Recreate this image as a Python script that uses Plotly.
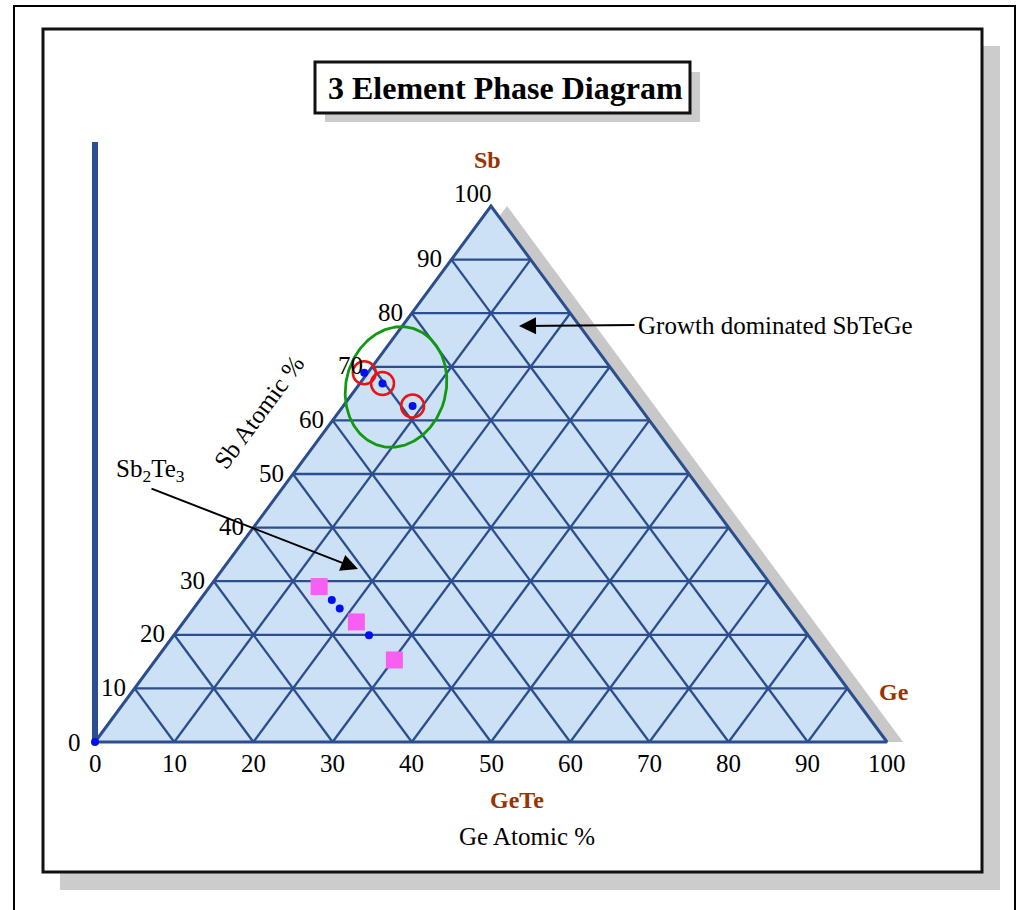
import numpy as np
import plotly.graph_objects as go

# ---------------- data ----------------
ge_ticks = [0, 10, 20, 30, 40, 50, 60, 70, 80, 90, 100]
sb_ticks = [0, 10, 20, 30, 40, 50, 60, 70, 80, 90, 100]

# Sb2Te3 - GeTe tie line samples (Ge scale, Sb scale)
tie_square_ge = [28.3, 33.0, 37.8]
tie_square_sb = [29.0, 22.4, 15.3]
tie_dot_ge = [29.9, 30.9, 34.6]
tie_dot_sb = [26.5, 24.9, 19.9]

# growth dominated SbTeGe compositions
growth_ge = [34.0, 36.3, 40.1]
growth_sb = [68.9, 66.9, 62.7]

origin_ge = [0]
origin_sb = [0]

# ---------------- geometry helpers ----------------
W, H = 1018, 910
X0, Y0 = 95.0, 742.0        # pixel of (0,0)
SX, SY = 7.92, 5.36          # pixels per unit


def px2x(p):
    return (p - X0) / SX


def py2y(p):
    return (Y0 - p) / SY


def pxp(p):
    return p / W


def pyp(p):
    return 1 - p / H


LINE = "#2c4d8e"
FILL = "#cde1f6"
BROWN = "#993300"
FONT = "Liberation Serif"

fig = go.Figure()

# shadow of triangle
shift = 16 / SX
fig.add_trace(go.Scatter(
    x=[0 + shift, 100 + shift, 50 + shift, 0 + shift],
    y=[0, 0, 100, 0], mode="lines", fill="toself",
    fillcolor="#c8c8c8", line=dict(width=0, color="#c8c8c8"),
    hoverinfo="skip", showlegend=False))

# triangle fill
fig.add_trace(go.Scatter(
    x=[0, 100, 50, 0], y=[0, 0, 100, 0], mode="lines", fill="toself",
    fillcolor=FILL, line=dict(width=0, color=FILL),
    hoverinfo="skip", showlegend=False))

# grid lines
gx, gy = [], []
for t in sb_ticks[1:-1]:
    gx += [t / 2, 100 - t / 2, None]
    gy += [t, t, None]
for t in ge_ticks[1:-1]:
    gx += [t, 50 + t / 2, None]
    gy += [0, 100 - t, None]
    gx += [t, t / 2, None]
    gy += [0, t, None]
fig.add_trace(go.Scatter(x=gx, y=gy, mode="lines",
                         line=dict(color=LINE, width=2.3),
                         hoverinfo="skip", showlegend=False))
# outline
fig.add_trace(go.Scatter(x=[0, 100, 50, 0], y=[0, 0, 100, 0], mode="lines",
                         line=dict(color=LINE, width=3),
                         hoverinfo="skip", showlegend=False))

# vertical axis bar
fig.add_trace(go.Scatter(x=[0, 0], y=[0, py2y(142)], mode="lines",
                         line=dict(color=LINE, width=6),
                         hoverinfo="skip", showlegend=False))

# green ellipse (pixel-space parameters)
cxp, cyp, a, b, th = 396, 387, 61, 50, np.radians(15)
tt = np.linspace(0, 2 * np.pi, 200)
ex = cxp + b * np.cos(tt) * np.cos(th) + a * np.sin(tt) * np.sin(th)
ey = cyp - (a * np.sin(tt) * np.cos(th) - b * np.cos(tt) * np.sin(th))
fig.add_trace(go.Scatter(x=px2x(ex), y=py2y(ey), mode="lines",
                         line=dict(color="#119911", width=2.8),
                         hoverinfo="skip", showlegend=False))

# red circles
fig.add_trace(go.Scatter(x=growth_ge, y=growth_sb, mode="markers",
                         marker=dict(size=23, color="rgba(0,0,0,0)",
                                     line=dict(color="#ee1111", width=2.5)),
                         hoverinfo="skip", showlegend=False))
# pink squares
fig.add_trace(go.Scatter(x=tie_square_ge, y=tie_square_sb, mode="markers",
                         marker=dict(size=17, symbol="square", color="#f95ef2",
                                     line=dict(width=0)),
                         showlegend=False))
# blue dots
fig.add_trace(go.Scatter(x=tie_dot_ge + growth_ge + origin_ge,
                         y=tie_dot_sb + growth_sb + origin_sb, mode="markers",
                         marker=dict(size=8, color="#0010ee", line=dict(width=0)),
                         showlegend=False))

# ---------------- frames ----------------
shapes = [
    dict(type="rect", xref="paper", yref="paper", x0=pxp(14), x1=pxp(1015),
         y0=pyp(6), y1=pyp(960), line=dict(color="black", width=2),
         fillcolor="white", layer="below"),
    dict(type="rect", xref="paper", yref="paper", x0=pxp(60), x1=pxp(1000),
         y0=pyp(46), y1=pyp(890), line=dict(width=0),
         fillcolor="#cccccc", layer="below"),
    dict(type="rect", xref="paper", yref="paper", x0=pxp(43), x1=pxp(982),
         y0=pyp(29), y1=pyp(872), line=dict(color="#111111", width=3),
         fillcolor="white", layer="below"),
    dict(type="rect", xref="paper", yref="paper", x0=pxp(325), x1=pxp(700),
         y0=pyp(72), y1=pyp(122), line=dict(width=0),
         fillcolor="#cccccc", layer="below"),
    dict(type="rect", xref="paper", yref="paper", x0=pxp(315), x1=pxp(690),
         y0=pyp(62), y1=pyp(113), line=dict(color="#111111", width=3),
         fillcolor="white", layer="below"),
]

ann = []
tf = dict(family=FONT, size=25, color="black")


def ptext(xp, yp, text, font, **kw):
    d = dict(x=pxp(xp), y=pyp(yp), xref="paper", yref="paper", text=text,
             showarrow=False, xanchor="center", yanchor="middle", font=font)
    d.update(kw)
    return d


# bottom ticks
for t in ge_ticks:
    ann.append(dict(x=t, y=py2y(763), text=str(t), showarrow=False,
                    xanchor="center", yanchor="middle", font=tf))
# left ticks
for t in sb_ticks:
    if t == 0:
        ann.append(dict(x=0, y=0, text="0", showarrow=False, xanchor="right",
                        yanchor="middle", xshift=-12, font=tf))
    elif t == 100:
        ann.append(dict(x=50, y=100, text="100", showarrow=False, xanchor="right",
                        yanchor="middle", xshift=3, yshift=13, font=tf))
    else:
        ann.append(dict(x=t / 2, y=t, text=str(t), showarrow=False, xanchor="right",
                        yanchor="middle", xshift=-7, yshift=1, font=tf))

# title
ann.append(ptext(505, 88, "<b>3 Element Phase Diagram</b>",
                 dict(family=FONT, size=32, color="black")))
# corner labels
bf = dict(family=FONT, size=24, color=BROWN)
ann.append(ptext(487, 160, "<b>Sb</b>", bf))
ann.append(ptext(894, 692, "<b>Ge</b>", bf))
ann.append(ptext(517, 800, "<b>GeTe</b>", bf))
ann.append(ptext(527, 836, "Ge Atomic %", tf))
ann.append(ptext(259, 413, "Sb Atomic %", tf, textangle=-53.5))
ann.append(ptext(636, 325, "Growth dominated SbTeGe", tf, xanchor="left"))
ann.append(ptext(150, 470, "Sb<sub>2</sub>Te<sub>3</sub>", tf))
# arrows
ann.append(dict(x=px2x(519), y=py2y(326), text="", showarrow=True,
                ax=117, ay=-1, arrowhead=2, arrowsize=1.7, arrowwidth=2,
                arrowcolor="black"))
ann.append(dict(x=px2x(358), y=py2y(569), text="", showarrow=True,
                ax=-208, ay=-81, arrowhead=2, arrowsize=1.7, arrowwidth=2,
                arrowcolor="black"))

fig.update_layout(
    width=W, height=H, margin=dict(l=0, r=0, t=0, b=0),
    paper_bgcolor="white", plot_bgcolor="rgba(0,0,0,0)",
    shapes=shapes, annotations=ann,
    xaxis=dict(range=[px2x(0), px2x(W)], visible=False, fixedrange=True),
    yaxis=dict(range=[py2y(H), py2y(0)], visible=False, fixedrange=True),
    font=dict(family=FONT),
)

fig.write_html("out.html", config={"displayModeBar": False},
               post_script="document.body.style.margin='0px';"
                           "document.body.style.overflow='hidden';")
